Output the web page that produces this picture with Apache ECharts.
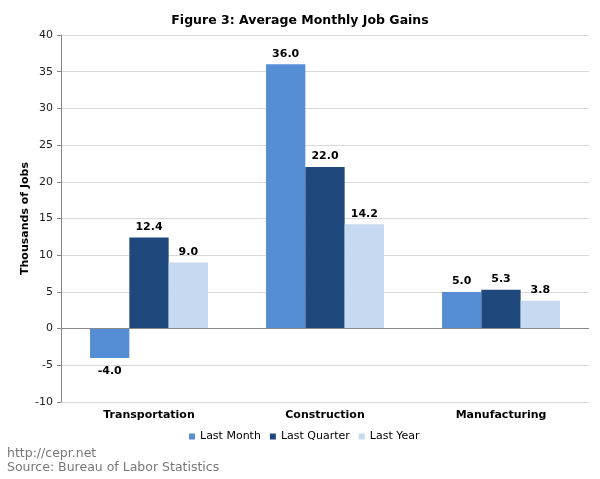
<!DOCTYPE html>
<html><head><meta charset="utf-8">
<script src="https://cdn.jsdelivr.net/npm/echarts@6/dist/echarts.min.js"></script>
<style>html,body{margin:0;padding:0;background:#fff}#c{width:600px;height:479px}</style>
</head><body><div id="c"></div>
<script>
const categories = ["Transportation", "Construction", "Manufacturing"];
const lastMonth = [-4.0, 36.0, 5.0];
const lastQuarter = [12.4, 22.0, 5.3];
const lastYear = [9.0, 14.2, 3.8];
const seriesNames = ["Last Month", "Last Quarter", "Last Year"];
const colors = ["#558ED5", "#1F497D", "#C6D9F1"];
const F = "DejaVu Sans, Verdana, sans-serif";

function mk(name, vals, color, idx) {
  const s = {
    name, type: 'bar', barGap: '0%', barCategoryGap: '33%',
    itemStyle: { color },
    data: vals.map(v => ({ value: v, label: v < 0 ? { position: 'bottom', distance: 8 } : { position: 'top' } })),
    label: { show: true, fontFamily: F, fontWeight: 'bold', fontSize: 11, color: '#000', distance: 5,
      formatter: p => p.value.toFixed(1) }
  };
  if (idx === 0) {
    s.markLine = { silent: true, symbol: 'none', label: { show: false },
      lineStyle: { color: '#888', type: 'solid', width: 1 }, data: [{ yAxis: 0 }] };
  }
  return s;
}

const chart = echarts.init(document.getElementById('c'));
chart.setOption({
  animation: false,
  textStyle: { fontFamily: F },
  title: { text: 'Figure 3: Average Monthly Job Gains', left: 'center', top: 9,
    textStyle: { fontFamily: F, fontSize: 12.5, fontWeight: 'bold', color: '#000' } },
  legend: { data: seriesNames, bottom: 32, left: 184, itemWidth: 6, itemHeight: 6, itemGap: 9,
    icon: 'rect', textStyle: { fontFamily: F, fontSize: 11, color: '#000' } },
  graphic: [
    { type: 'text', left: 7, top: 447, style: { text: 'http://cepr.net', fill: '#777', font: '12.5px ' + F } },
    { type: 'text', left: 7, top: 461, style: { text: 'Source: Bureau of Labor Statistics', fill: '#777', font: '12.5px ' + F } }
  ],
  grid: { left: 61, right: 11, top: 35, bottom: 77 },
  xAxis: { type: 'category', data: categories,
    axisLine: { show: false }, axisTick: { show: false },
    axisLabel: { fontFamily: F, fontWeight: 'bold', fontSize: 11, color: '#000', margin: 8 } },
  yAxis: { type: 'value', min: -10, max: 40, interval: 5,
    name: 'Thousands of Jobs', nameLocation: 'middle', nameGap: 30, nameRotate: 90, nameMoveOverlap: false,
    nameTextStyle: { fontFamily: F, fontWeight: 'bold', fontSize: 11, color: '#000' },
    axisLine: { show: true, lineStyle: { color: '#888' } },
    axisTick: { show: true, length: 4, lineStyle: { color: '#888' } },
    axisLabel: { fontFamily: F, fontSize: 11, color: '#222', margin: 8 },
    splitLine: { lineStyle: { color: '#d9d9d9' } } },
  series: [
    mk(seriesNames[0], lastMonth, colors[0], 0),
    mk(seriesNames[1], lastQuarter, colors[1], 1),
    mk(seriesNames[2], lastYear, colors[2], 2)
  ]
});
</script></body></html>
